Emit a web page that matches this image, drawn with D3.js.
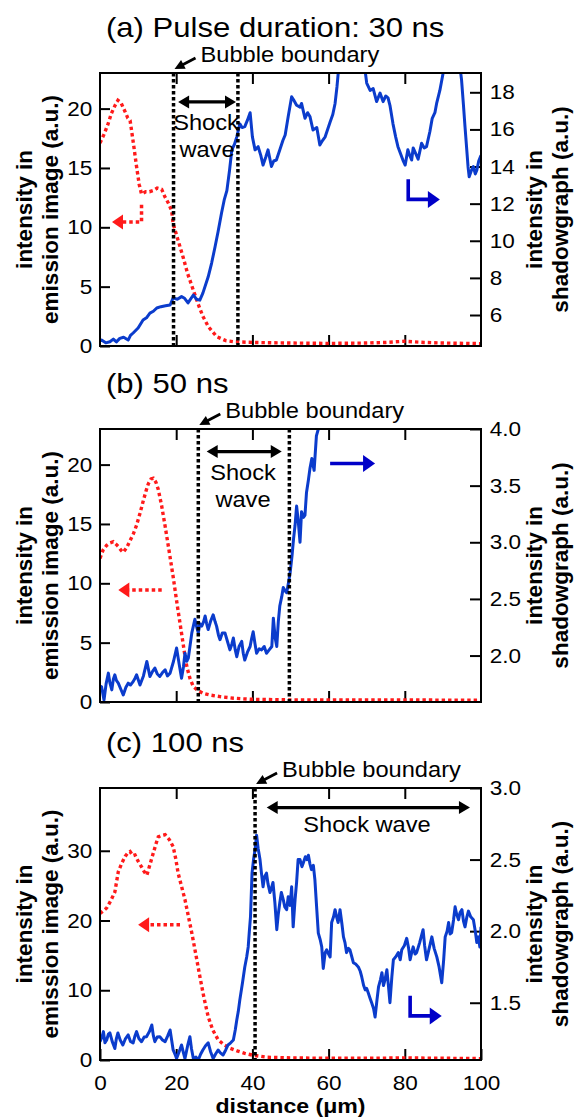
<!DOCTYPE html>
<html><head><meta charset="utf-8">
<script src="https://cdn.jsdelivr.net/npm/d3@7"></script>
<style>body{margin:0;background:#fff}svg{display:block}</style>
</head><body><svg id="chart" width="574" height="1120"></svg>
<script>
// ---------------- data ----------------
const xDomain = [0, 100];
const xTickLabels = [0, 20, 40, 60, 80, 100];
const xInnerTicks = [20, 40, 60, 80];
const panelTitles = ["(a) Pulse duration: 30 ns", "(b) 50 ns", "(c) 100 ns"];
const leftDomains = [[0, 23], [0, 23], [0, 39]];
const rightDomains = [[4.33, 19.04], [1.59, 4.0], [1.1, 3.0]];
const leftTicks = [[0, 5, 10, 15, 20], [0, 5, 10, 15, 20], [0, 10, 20, 30]];
const rightTicks = [[6, 8, 10, 12, 14, 16, 18], [2.0, 2.5, 3.0, 3.5, 4.0], [1.5, 2.0, 2.5, 3.0]];
const rightFormats = ["d", ".1f", ".1f"];
const boundaries = [[19.3, 36.2], [25.8, 49.7], [40.7]];

// emission image intensity (left axis), [distance µm, value]
const emissionA = [[0,17.1],[1,17.8],[2,18.6],[3,19.6],[4,20.3],[4.7,20.7],[5.5,20.5],[6.5,19.8],[7.3,19.2],[7.9,19.0],[8.8,17.0],[9.6,15.1],[10.3,13.6],[10.9,12.8],[12,13.0],[13,13.0],[14,13.1],[15,13.3],[16.2,13.2],[17,12.6],[18,12.0],[18.8,11.4],[19.2,10.3],[20.5,8.9],[21.8,7.5],[23,6.1],[24.5,4.7],[25.8,3.5],[27,2.5],[28.5,1.6],[30.6,0.8],[33,0.45],[35,0.36],[40,0.3],[50,0.25],[60,0.22],[70,0.25],[75,0.3],[80,0.4],[85,0.3],[90,0.25],[100,0.2]];
const emissionB = [[0,12.1],[0.8,12.8],[1.75,13.2],[2.6,13.4],[3.5,13.5],[4.2,13.3],[4.8,13.1],[5.5,12.8],[6.1,12.6],[7,13.0],[7.9,13.6],[8.8,14.2],[9.6,14.9],[10.5,15.9],[11.4,17.0],[12.1,17.8],[12.7,18.4],[13.4,18.8],[14,18.85],[14.7,18.5],[15.3,17.9],[16.2,16.5],[17.1,14.8],[18.2,12.6],[19.2,10.55],[20.3,8.1],[21.4,5.8],[22.1,4.3],[22.8,2.97],[23.6,2.0],[24.5,1.29],[25.8,0.95],[27.1,0.73],[29,0.58],[31.5,0.45],[35,0.32],[39.4,0.23],[50,0.18],[60,0.17],[80,0.17],[100,0.15]];
const emissionC = [[0,21.0],[0.9,21.4],[1.75,21.8],[2.8,22.8],[3.9,24.1],[4.8,27],[5.7,28.2],[6.6,29.2],[7.3,29.7],[7.9,29.9],[8.6,29.3],[9.2,29.4],[10,28.5],[10.9,27.7],[11.6,27.0],[12.3,26.5],[13.1,28.0],[14,29.7],[14.7,31.0],[15.3,32.0],[16.2,32.2],[17.1,32.3],[18.2,31.6],[19.2,30.6],[19.9,28.8],[20.5,26.8],[21.4,24.9],[22.3,23.0],[23.2,20.6],[24.1,18.2],[25.2,15.0],[26.2,12.0],[27.3,8.9],[28.4,6.2],[29.6,4.3],[31,2.9],[32.5,2.2],[34.1,1.7],[36,1.3],[38,0.96],[40,0.7],[43.7,0.4],[50,0.3],[60,0.25],[70,0.25],[80,0.3],[90,0.25],[100,0.2]];

// shadowgraph intensity (right axis), [distance µm, value]
const shadowA = [[0,4.6],[0.4,4.65],[1.5,4.5],[2.6,4.56],[3.5,4.7],[4.3,4.55],[5.2,4.74],[6.2,4.8],[7.4,4.65],[8,4.9],[8.7,5.03],[10,5.3],[11.3,5.73],[12.2,5.85],[13.1,6.1],[14,6.2],[14.9,6.38],[16,6.45],[17.2,6.5],[18.4,6.54],[19.2,6.92],[20.3,6.85],[21.4,6.99],[22.2,6.9],[23.1,6.65],[24.5,7.08],[25.3,6.85],[26.2,6.8],[27,7.18],[28.4,8.06],[29.3,8.8],[30.2,9.68],[31,10.5],[31.9,11.5],[32.6,12.2],[33.3,12.7],[34,13.8],[34.6,14.9],[35.3,15.2],[35.9,15.6],[36.7,16.3],[37.3,16.1],[38,16.15],[38.7,16.5],[39.4,16.9],[40,15.6],[40.7,14.9],[41.5,15.07],[42.2,14.6],[42.8,14.08],[43.5,14.5],[44.1,14.9],[45,14.0],[45.6,14.3],[46.3,14.35],[47.2,14.9],[48,15.4],[48.6,15.7],[49.4,16.7],[50.3,17.76],[50.8,17.6],[51.6,17.3],[52.5,17.2],[52.9,17.4],[53.8,16.6],[54.5,16.9],[55.1,16.7],[55.9,15.97],[56.9,16.1],[57.7,15.16],[58.4,15.4],[59.1,15.6],[60.4,16.4],[61.1,16.8],[61.7,17.4],[62.2,18.3],[62.6,19.2],[63.5,20.5],[65,21.5],[67,21.8],[68.8,20.5],[69.5,19.3],[70,18.5],[70.9,18.1],[71.7,18.2],[72.6,17.5],[73.5,17.96],[74.3,17.5],[75,17.8],[75.6,17.7],[76.1,17.3],[76.9,16.3],[77.6,15.6],[78.2,15.07],[79.5,14.35],[80.1,14.08],[80.8,14.9],[81.3,14.6],[81.8,14.35],[82.2,15.0],[83.5,14.4],[84.4,15.25],[85.1,15.0],[85.7,15.07],[86.6,15.9],[87.2,16.6],[87.9,16.9],[88.4,17.45],[89.2,18.1],[90,18.97],[90.6,19.6],[92,20.5],[93.5,20.3],[94.4,19.5],[94.9,18.66],[95.4,17.3],[95.8,16.15],[96.6,13.99],[96.9,13.45],[97.5,13.8],[98,14.0],[98.5,13.6],[98.9,13.8],[99.4,14.3],[100,14.6]];
const shadowB = [[0,1.68],[0.4,1.726],[1.05,1.608],[1.6,1.75],[2.2,1.845],[2.6,1.76],[3.1,1.697],[3.5,1.79],[3.9,1.83],[4.3,1.78],[4.8,1.756],[5.5,1.7],[6.1,1.652],[6.8,1.72],[7.4,1.756],[8,1.74],[8.7,1.77],[9.2,1.8],[9.6,1.83],[10.1,1.78],[10.5,1.74],[11.4,1.82],[12.3,1.948],[12.7,1.88],[13.1,1.815],[13.8,1.86],[14.4,1.89],[15,1.84],[15.7,1.815],[16.4,1.85],[17.1,1.874],[17.7,1.82],[18.4,1.845],[19.3,1.95],[20.1,2.067],[20.8,1.92],[21.4,1.8],[21.9,1.9],[22.3,2.02],[22.8,1.95],[23.2,1.98],[24.1,2.2],[24.9,2.32],[25.4,2.25],[25.8,2.2],[26.2,2.28],[26.7,2.26],[27.2,2.3],[27.6,2.35],[28,2.28],[28.4,2.23],[29,2.3],[29.7,2.36],[30.2,2.3],[30.6,2.26],[31.1,2.18],[31.5,2.14],[32.1,2.2],[32.8,2.2],[33.5,2.12],[34.1,2.05],[34.6,2.1],[35,2.155],[35.5,2.05],[35.9,1.99],[36.5,2.08],[37.2,2.125],[37.6,2.02],[38,1.96],[38.7,2.03],[39.4,2.08],[39.8,2.15],[40.2,2.21],[40.7,2.1],[41.1,2.02],[41.8,2.06],[42.4,2.05],[43.1,2.08],[43.7,2.02],[44.4,2.05],[45.1,2.08],[45.5,2.33],[46,2.15],[46.4,2.08],[46.8,2.3],[47.2,2.44],[47.7,2.52],[48.1,2.6],[48.6,2.57],[49,2.555],[49.5,2.65],[49.9,2.73],[50.4,2.88],[50.8,3.03],[51.2,3.15],[51.6,3.32],[52,3.2],[52.5,3.0],[52.9,3.27],[53.4,3.22],[53.8,3.24],[54.2,3.44],[54.7,3.55],[55.1,3.65],[55.6,3.74],[56.2,3.635],[56.8,3.94],[57.3,4.0],[57.8,4.3]];
const shadowC = [[0,1.228],[0.5,1.26],[0.9,1.298],[1.3,1.22],[1.75,1.24],[2.2,1.28],[2.6,1.289],[3.2,1.23],[3.9,1.18],[4.3,1.25],[4.7,1.289],[5.3,1.24],[6,1.205],[6.7,1.25],[7.4,1.275],[8,1.23],[8.7,1.219],[9.2,1.27],[9.6,1.298],[10.2,1.25],[10.9,1.228],[11.6,1.26],[12.2,1.263],[13,1.3],[13.6,1.345],[14,1.27],[14.4,1.228],[15,1.26],[15.7,1.263],[16.4,1.24],[17.1,1.228],[17.8,1.27],[18.4,1.31],[18.8,1.24],[19.2,1.17],[19.7,1.14],[20.1,1.11],[20.8,1.16],[21.4,1.205],[21.9,1.15],[22.3,1.11],[23,1.2],[23.6,1.263],[24,1.18],[24.5,1.11],[25.2,1.12],[25.8,1.1],[26.4,1.14],[27,1.17],[27.7,1.2],[28.4,1.22],[29,1.16],[29.7,1.11],[30.3,1.14],[31,1.17],[31.6,1.15],[32.3,1.135],[33,1.17],[33.6,1.205],[34.3,1.22],[35,1.24],[35.5,1.31],[35.9,1.38],[36.3,1.44],[36.7,1.52],[37.4,1.64],[38,1.75],[38.5,1.82],[38.9,1.89],[39.2,2.0],[39.5,2.1],[39.9,2.405],[40.3,2.5],[40.7,2.57],[41.1,2.67],[41.5,2.58],[42,2.5],[42.4,2.4],[42.8,2.31],[43.2,2.38],[43.7,2.405],[44.1,2.33],[44.6,2.27],[45,2.3],[45.4,2.34],[45.9,2.2],[46.4,2.01],[46.8,2.12],[47.2,2.2],[47.6,2.27],[48.1,2.22],[48.5,2.17],[49,2.15],[49.4,2.24],[49.9,2.18],[50.3,2.31],[50.7,2.03],[51.2,2.22],[51.6,2.34],[52,2.5],[52.5,2.5],[53,2.45],[53.4,2.48],[53.9,2.52],[54.3,2.5],[54.7,2.53],[55.1,2.47],[55.5,2.43],[56,2.46],[56.4,2.36],[56.9,2.15],[57.3,1.986],[57.8,1.94],[58.2,1.89],[58.6,1.74],[59.1,1.85],[59.5,1.87],[60,1.84],[60.4,1.82],[60.8,2.06],[61.3,2.1],[61.7,2.15],[62.1,2.1],[62.5,2.06],[63,2.15],[63.5,2.05],[63.9,1.96],[64.3,1.92],[64.7,1.85],[65.2,1.88],[65.6,1.87],[66,1.83],[66.5,1.78],[67.1,1.77],[67.8,1.75],[68.3,1.72],[68.7,1.68],[69.2,1.62],[69.6,1.59],[70,1.6],[70.4,1.57],[70.9,1.53],[71.3,1.5],[71.8,1.46],[72.2,1.4],[72.7,1.52],[73.1,1.61],[73.6,1.66],[74,1.71],[74.4,1.62],[74.8,1.66],[75.3,1.73],[75.7,1.62],[76.1,1.5],[76.6,1.68],[77,1.8],[77.6,1.82],[78.3,1.85],[78.8,1.8],[79.2,1.87],[79.9,1.9],[80.5,1.95],[81,1.88],[81.4,1.8],[81.8,1.85],[82.2,1.89],[82.7,1.84],[83.1,1.85],[83.9,1.92],[84.8,2.01],[85.2,1.9],[85.7,1.8],[86.4,1.88],[87.1,1.96],[87.7,1.88],[88.4,1.82],[89,1.75],[89.7,1.64],[90.2,1.8],[90.6,1.96],[91.1,2.0],[91.5,2.06],[91.9,1.98],[92.3,1.99],[92.8,2.08],[93.2,2.17],[93.6,2.12],[94.1,2.08],[94.5,2.13],[95,2.15],[95.4,2.07],[95.8,2.03],[96.3,2.1],[96.7,2.14],[97.3,2.1],[98,2.08],[98.5,2.0],[98.9,1.92],[99.3,1.96],[99.7,1.89],[100,2.03]];

// annotation arrows (data units)
const shockArrows = [[20.5, 35.7, 20.56], [28, 47.7, 21.1], [43.75, 97.1, 36.2]];
const redArrowPaths = [[[10.9, 11.9], [10.9, 10.45], [3.15, 10.45]], [[16.2, 9.44], [4.8, 9.44]], [[21, 19.4], [10, 19.4]]];
const blueArrowPaths = [[[80.9, 13.31], [80.9, 12.23], [89.2, 12.23]], [[60.4, 3.695], [72.2, 3.695]], [[81.4, 1.548], [81.4, 1.408], [89.7, 1.408]]];
const shockLabels = [["Shock", "wave"], ["Shock", "wave"], ["Shock wave"]];

const emissions = [emissionA, emissionB, emissionC];
const shadows = [shadowA, shadowB, shadowC];

// ---------------- layout ----------------
const FONT = "'Liberation Sans', Arial, Helvetica, sans-serif";
const SX = 1.1;
const L = 100, R = 481;
const tops = [73, 429, 788], bottoms = [346, 702, 1060];
const shockLabelPos = [[[206, 130], [207, 157]], [[243, 480], [243, 507]], [[367, 832]]];
const RED = "#ff1a1a", BLUE = "#0b3ccc", ABLUE = "#0000c8";

const svg = d3.select("#chart");
const x = d3.scaleLinear().domain(xDomain).range([L, R]);

function txt(g, px, py, s, size, anchor, weight, sx) {
  return g.append("text").attr("transform", `translate(${px},${py}) scale(${sx || SX},1)`)
    .attr("text-anchor", anchor || "start").attr("font-family", FONT)
    .attr("font-size", size).attr("font-weight", weight || "normal").attr("fill", "#000").text(s);
}
function head(g, tip, dir, len, half, color) {
  const [tx, ty] = tip, [dx, dy] = dir;
  const bx = tx - dx * len, by = ty - dy * len;
  const nx = -dy, ny = dx;
  g.append("path").attr("d", `M${tx},${ty}L${bx + nx * half},${by + ny * half}L${bx - nx * half},${by - ny * half}Z`).attr("fill", color);
}

tops.forEach((top, i) => {
  const bottom = bottoms[i];
  const yl = d3.scaleLinear().domain(leftDomains[i]).range([bottom, top]);
  const yr = d3.scaleLinear().domain(rightDomains[i]).range([bottom, top]);
  const g = svg.append("g");

  const clipId = "clip" + i;
  svg.append("clipPath").attr("id", clipId).append("rect")
    .attr("x", L).attr("y", top).attr("width", R - L).attr("height", bottom - top);

  // title
  txt(g, 106, top - 36, panelTitles[i], 27.5, "start", "normal", 1.13);

  // axes
  const styleAxis = (ag) => { ag.select(".domain").remove(); ag.selectAll("line").attr("stroke", "#000").attr("stroke-width", 2);
    ag.selectAll("text").attr("font-family", FONT).attr("font-size", 20.5).attr("fill", "#000"); };
  g.append("g").attr("transform", `translate(${L},0)`)
    .call(d3.axisLeft(yl).tickValues(leftTicks[i]).tickSize(-10).tickPadding(7))
    .call(styleAxis).selectAll("text").attr("transform", `scale(${SX},1)`);
  g.append("g").attr("transform", `translate(${R},0)`)
    .call(d3.axisRight(yr).tickValues(rightTicks[i]).tickFormat(d3.format(rightFormats[i])).tickSize(-11).tickPadding(8))
    .call(styleAxis).selectAll("text").attr("transform", `scale(${SX},1)`);
  g.append("g").attr("transform", `translate(0,${top})`)
    .call(d3.axisTop(x).tickValues(xInnerTicks).tickSize(-11).tickFormat(""))
    .call(styleAxis);
  const bx = g.append("g").attr("transform", `translate(0,${bottom})`);
  if (i === 2) {
    bx.call(d3.axisBottom(x).tickValues(xTickLabels).tickSize(-11).tickPadding(15)).call(styleAxis);
    bx.selectAll("text").attr("transform", `scale(${SX},1)`);
  } else {
    bx.call(d3.axisBottom(x).tickValues(xInnerTicks).tickSize(-11).tickFormat("")).call(styleAxis);
  }

  const plot = g.append("g").attr("clip-path", `url(#${clipId})`);
  // emission (red dotted)
  plot.append("path").datum(emissions[i])
    .attr("d", d3.line().x(d => x(d[0])).y(d => yl(d[1])))
    .attr("fill", "none").attr("stroke", RED).attr("stroke-width", 3.4).attr("stroke-dasharray", "3.4,3");
  // shadowgraph (blue)
  plot.append("path").datum(shadows[i])
    .attr("d", d3.line().x(d => x(d[0])).y(d => yr(d[1])))
    .attr("fill", "none").attr("stroke", BLUE).attr("stroke-width", 3).attr("stroke-linejoin", "round");

  // boundary dotted lines
  boundaries[i].forEach(b => {
    g.append("line").attr("x1", x(b)).attr("x2", x(b)).attr("y1", top).attr("y2", bottom)
      .attr("stroke", "#000").attr("stroke-width", 3.5).attr("stroke-dasharray", "3.5,2.5");
  });

  // frame
  g.append("rect").attr("x", L).attr("y", top).attr("width", R - L).attr("height", bottom - top)
    .attr("fill", "none").attr("stroke", "#000").attr("stroke-width", 2);

  // bubble boundary annotation
  const tipX = x(boundaries[i][0]) + 1, tipY = top - 4;
  const tailX = tipX + 21, tailY = tipY - 11;
  const dl = Math.hypot(tailX - tipX, tailY - tipY);
  const ux = (tipX - tailX) / dl, uy = (tipY - tailY) / dl;
  g.append("line").attr("x1", tailX).attr("y1", tailY).attr("x2", tipX - ux * 7).attr("y2", tipY - uy * 7)
    .attr("stroke", "#000").attr("stroke-width", 2.8);
  head(g, [tipX, tipY], [ux, uy], 10, 5, "#000");
  txt(g, tipX + 26, top - 11, "Bubble boundary", 21.5);

  // shock wave double arrow
  const [s1, s2, sy] = shockArrows[i];
  const ay = yl(sy);
  g.append("line").attr("x1", x(s1) + 8).attr("x2", x(s2) - 8).attr("y1", ay).attr("y2", ay)
    .attr("stroke", "#000").attr("stroke-width", 3.2);
  head(g, [x(s1), ay], [-1, 0], 11, 6.5, "#000");
  head(g, [x(s2), ay], [1, 0], 11, 6.5, "#000");
  shockLabels[i].forEach((s, k) => txt(g, shockLabelPos[i][k][0], shockLabelPos[i][k][1], s, 21.5, "middle"));

  // red dotted arrow (points to left axis)
  const rp = redArrowPaths[i].map(d => [x(d[0]), yl(d[1])]);
  const rtip = rp[rp.length - 1];
  const rpts = rp.slice(0, -1).concat([[rtip[0] + 10, rtip[1]]]);
  g.append("path").attr("d", d3.line()(rpts)).attr("fill", "none").attr("stroke", RED)
    .attr("stroke-width", 3.5).attr("stroke-dasharray", "3.5,3");
  head(g, rtip, [-1, 0], 11, 7.5, RED);

  // blue arrow (points to right axis)
  const bp = blueArrowPaths[i].map(d => [x(d[0]), yr(d[1])]);
  const btip = bp[bp.length - 1];
  const bpts = bp.slice(0, -1).concat([[btip[0] - 10, btip[1]]]);
  g.append("path").attr("d", d3.line()(bpts)).attr("fill", "none").attr("stroke", ABLUE)
    .attr("stroke-width", 3.6).attr("stroke-linejoin", "miter");
  head(g, btip, [1, 0], 12, 8.5, ABLUE);

  // y titles
  const cy = (top + bottom) / 2;
  const yt = (px, s) => g.append("text").attr("transform", `translate(${px},${cy}) rotate(-90)`)
    .attr("text-anchor", "middle").attr("font-family", FONT).attr("font-size", 22.5)
    .attr("font-weight", "bold").attr("fill", "#000").text(s);
  yt(32, "intensity in"); yt(58, "emission image (a.u.)");
  yt(542, "intensity in"); yt(568, "shadowgraph (a.u.)");
});

txt(svg, (L + R) / 2, 1113, "distance (μm)", 21, "middle", "bold");
</script></body></html>
